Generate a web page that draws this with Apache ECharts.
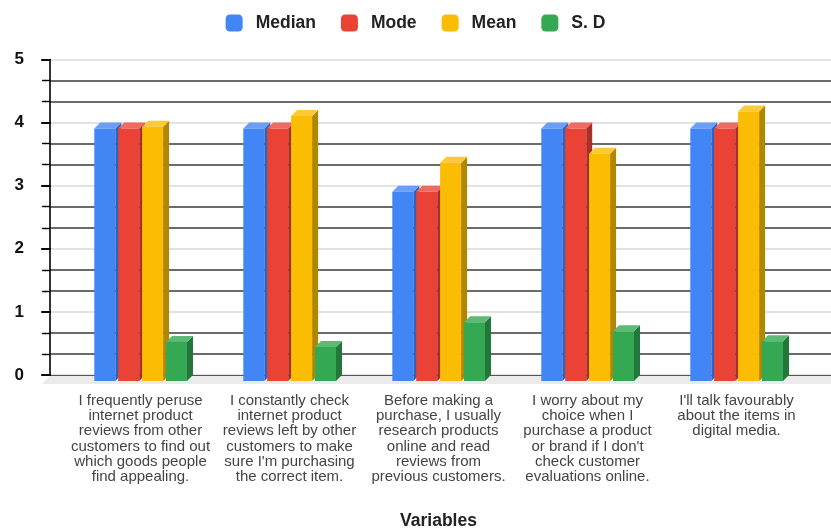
<!DOCTYPE html>
<html>
<head>
<meta charset="utf-8">
<script src="https://cdn.jsdelivr.net/npm/echarts@6/dist/echarts.min.js"></script>
<style>html,body{margin:0;padding:0;background:#fff;}#c{width:831px;height:531px;}</style>
</head>
<body>
<div id="c"></div>
<script>
var categories = [
  "I frequently peruse\ninternet product\nreviews from other\ncustomers to find out\nwhich goods people\nfind appealing.",
  "I constantly check\ninternet product\nreviews left by other\ncustomers to make\nsure I'm purchasing\nthe correct item.",
  "Before making a\npurchase, I usually\nresearch products\nonline and read\nreviews from\nprevious customers.",
  "I worry about my\nchoice when I\npurchase a product\nor brand if I don't\ncheck customer\nevaluations online.",
  "I'll talk favourably\nabout the items in\ndigital media."
];
var seriesNames = ["Median", "Mode", "Mean", "S. D"];
var median = [4, 4, 3, 4, 4];
var mode = [4, 4, 3, 4, 4];
var mean = [4.03, 4.2, 3.46, 3.6, 4.27];
var sd = [0.62, 0.54, 0.93, 0.79, 0.63];
var yTicks = [0, 1, 2, 3, 4, 5];

var values = [median, mode, mean, sd];
var faceColors = ["#4285F4", "#EA4335", "#FBBC04", "#34A853"];
var sideColors = ["#2f63bd", "#a9302a", "#b18600", "#23773a"];
var lidColors = ["#6a9ef7", "#ef6b61", "#fcc937", "#5cba75"];

var D = 6, W = 21, STEP = 23.9, START = -46.2;

function makeRender(i) {
  return function (params, api) {
    var top = api.coord([api.value(0), api.value(1)]);
    var base = api.coord([api.value(0), 0]);
    var xl = top[0] + START + i * STEP;
    var xr = xl + W;
    var yt = top[1] + D;
    var yb = base[1] + D;
    return {
      type: 'group',
      children: [
        { type: 'polygon', shape: { points: [[xr, yt], [xr + D, yt - D], [xr + D, yb - D], [xr, yb]] }, style: { fill: sideColors[i] } },
        { type: 'polygon', shape: { points: [[xl, yt], [xl + D, yt - D], [xr + D, yt - D], [xr, yt]] }, style: { fill: lidColors[i] } },
        { type: 'rect', shape: { x: xl, y: yt, width: W, height: yb - yt }, style: { fill: faceColors[i] } }
      ]
    };
  };
}

var series = [];
// floor
series.push({
  type: 'custom', xAxisIndex: 0, yAxisIndex: 0, silent: true, z: 1,
  data: [[0, 0]],
  renderItem: function (params, api) {
    var cs = params.coordSys;
    var p = api.coord([0, 0]);
    var y = p[1];
    return { type: 'polygon', shape: { points: [[cs.x, y + 1], [cs.x + cs.width, y + 1], [cs.x + cs.width, y + 9], [cs.x - 8, y + 9]] }, style: { fill: '#ebebeb' } };
  }
});
for (var i = 0; i < 4; i++) {
  series.push({
    name: seriesNames[i], type: 'custom', xAxisIndex: 1, yAxisIndex: 2, z: 3,
    itemStyle: { color: faceColors[i] },
    encode: { x: 0, y: 1 },
    data: values[i].map(function (v, k) { return [k, v]; }),
    renderItem: makeRender(i)
  });
}

var chart = echarts.init(document.getElementById('c'), null, { renderer: 'canvas' });
chart.setOption({
  animation: false,
  backgroundColor: '#fff',
  legend: {
    top: 9, left: 'center',
    icon: 'roundRect', itemWidth: 17, itemHeight: 17, itemGap: 25,
    data: seriesNames,
    textStyle: { fontFamily: 'Arial, "Liberation Sans", sans-serif', fontWeight: 'bold', fontSize: 17.5, color: '#222', padding: [0, 0, 0, 8] }
  },
  grid: [
    { left: 50, right: 0, top: 59.5, bottom: 156, outerBoundsMode: 'none', containLabel: false },
    { left: 66, width: 745, top: 59.5, bottom: 156, outerBoundsMode: 'none', containLabel: false }
  ],
  xAxis: [
    { type: 'value', gridIndex: 0, min: 0, max: 1, axisLine: { show: true, lineStyle: { color: '#555', width: 1.2 } }, axisTick: { show: false }, axisLabel: { show: false }, splitLine: { show: false } },
    {
      type: 'category', gridIndex: 1, data: categories,
      axisLine: { show: false }, axisTick: { show: false },
      axisLabel: { interval: 0, margin: 18, fontFamily: 'Arial, "Liberation Sans", sans-serif', fontSize: 15, lineHeight: 15.3, color: '#444', align: 'center' },
      name: 'Variables', nameLocation: 'middle', nameGap: 137.5,
      nameTextStyle: { fontFamily: 'Arial, "Liberation Sans", sans-serif', fontWeight: 'bold', fontSize: 17.5, color: '#222' }
    }
  ],
  yAxis: [
    {
      type: 'value', gridIndex: 0, position: 'left', min: yTicks[0], max: yTicks[yTicks.length - 1], interval: 1, offset: 8,
      axisLine: { show: true, lineStyle: { color: '#000', width: 1.6 } },
      axisTick: { show: true, length: 9, lineStyle: { color: '#000', width: 1.6 } },
      minorTick: { show: true, splitNumber: 3, length: 5, lineStyle: { color: '#000', width: 1.4 } },
      axisLabel: { margin: 18, fontFamily: 'Arial, "Liberation Sans", sans-serif', fontWeight: 'bold', fontSize: 17, color: '#111' },
      splitLine: { show: true, lineStyle: { color: '#d9d9d9', width: 1.7 } },
      minorSplitLine: { show: true, lineStyle: { color: '#3a3a3a', width: 1.6 } }
    },
    {
      type: 'value', gridIndex: 0, position: 'left', min: yTicks[0], max: yTicks[yTicks.length - 1], interval: 1, offset: 8,
      axisLine: { show: false },
      axisTick: { show: true, inside: true, length: 9, lineStyle: { color: '#000', width: 1.6 } },
      minorTick: { show: true, splitNumber: 3, length: 4, lineStyle: { color: '#000', width: 1.4 } },
      axisLabel: { show: false }, splitLine: { show: false }
    },
    { type: 'value', gridIndex: 1, position: 'left', min: yTicks[0], max: yTicks[yTicks.length - 1], show: false, splitLine: { show: false } }
  ],
  series: series
});
</script>
</body>
</html>
